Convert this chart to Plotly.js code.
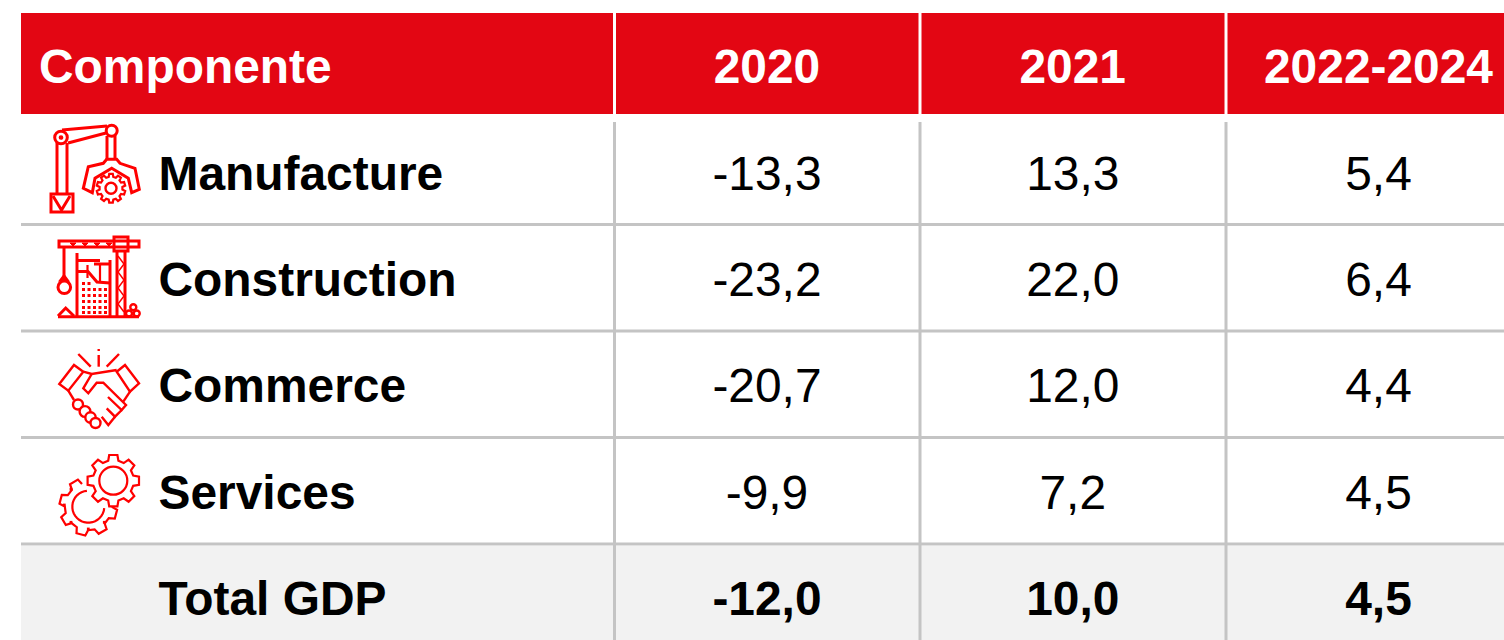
<!DOCTYPE html>
<html><head><meta charset="utf-8">
<script src="https://cdn.plot.ly/plotly-3.0.1.min.js"></script>
<style>html,body{margin:0;padding:0;background:#fff;overflow:hidden}</style>
</head><body><div id="chart" style="width:1504px;height:640px"></div>
<script>
const headerLabel = "Componente";
const periods = ["2020", "2021", "2022-2024"];
const components = ["Manufacture", "Construction", "Commerce", "Services", "Total GDP"];
const values2020 = [-13.3, -23.2, -20.7, -9.9, -12.0];
const values2021 = [13.3, 22.0, 12.0, 7.2, 10.0];
const values2022to2024 = [5.4, 6.4, 4.4, 4.5, 4.5];

const RED = "#e30613", ICON = "#ff0000", GRID = "#c4c4c4", BAND = "#f2f2f2";
const FONT = "Liberation Sans, Arial, sans-serif", SIZE = 47.9;
const W = 1504, H = 640;
const rows = components.map((_, i) => i + 1);
const fmt = v => v.toFixed(1).replace(".", ",");
const weights = rows.map((_, i) => i === rows.length - 1 ? 700 : 400);

/* x axis: column index; y axis: row index (0 = header) */
const colPx = 305.75, col1Px = 767, rowPx = 106.3, row0Px = 71.5;
const xRange = [1 - col1Px / colPx, 1 + (W - col1Px) / colPx];
const yRange = [(H - row0Px) / rowPx, -row0Px / rowPx];
const nameX = (158.5 - col1Px) / colPx + 1;
const headX = (39 - col1Px) / colPx + 1;

const traces = [];
[values2020, values2021, values2022to2024].forEach((vals, c) => {
  traces.push({
    type: "scatter", mode: "text", name: periods[c], cliponaxis: false,
    x: [c + 1, ...rows.map(() => c + 1)], y: [0, ...rows],
    text: [periods[c], ...vals.map(fmt)], textposition: "middle center",
    textfont: {family: FONT, size: SIZE, color: ["#ffffff", ...rows.map(() => "#000000")],
               weight: [700, ...weights]},
    hoverinfo: "skip", showlegend: false
  });
});
traces.push({
  type: "scatter", mode: "text", name: "Componente", cliponaxis: false,
  x: [headX, ...rows.map(() => nameX)], y: [0, ...rows],
  text: [headerLabel, ...components], textposition: "middle right",
  textfont: {family: FONT, size: SIZE, weight: 700, color: ["#ffffff", ...rows.map(() => "#000000")]},
  hoverinfo: "skip", showlegend: false
});
traces.push({type: "scatter", x: [], y: [], xaxis: "x2", yaxis: "y2", hoverinfo: "skip", showlegend: false});

/* pixel-space overlay axes x2 / y2 for table furniture and icons */
const shapes = [];
const S = o => shapes.push(Object.assign({xref: "x2", yref: "y2"}, o));
const rect = (x0, y0, x1, y1, fill, layer = "below") =>
  S({type: "rect", x0, y0, x1, y1, fillcolor: fill, line: {width: 0}, layer});
const gline = (x0, y0, x1, y1) =>
  S({type: "line", x0, y0, x1, y1, line: {color: GRID, width: 3}, layer: "below"});

rect(21, 13, W, 114, RED);
rect(21, 546, W, H, BAND);
[614.5, 920, 1226].forEach(x => {
  rect(x - 1.5, 13, x + 1.5, 114, "#ffffff");
  gline(x, 122, x, H);
});
[224.5, 331, 437.5, 544].forEach(y => gline(21, y, W, y));

const ip = (d, w = 3, fill = "rgba(0,0,0,0)") =>
  S({type: "path", path: d, line: {color: ICON, width: w}, fillcolor: fill, layer: "above"});
const poly = (pts, close) => "M" + pts.map(p => p.join(",")).join("L") + (close ? "Z" : "");
const circ = (cx, cy, r, w = 3, fill = "rgba(0,0,0,0)") =>
  S({type: "circle", x0: cx - r, y0: cy - r, x1: cx + r, y1: cy + r,
     line: {color: ICON, width: w}, fillcolor: fill, layer: "above"});
const box = (x, y, s) => rect(x, y, x + s, y + s, ICON, "above");
function gear(cx, cy, ro, ri, n, skipFrom, skipTo) {
  const pts = [], st = 360 / n;
  for (let i = 0; i < n; i++) {
    const a = i * st + (skipTo !== undefined ? skipTo : -90);
    [[-0.32, ri], [-0.2, ro], [0.2, ro], [0.32, ri]].forEach(([o, r]) => {
      const d = a + o * st, t = d * Math.PI / 180;
      const norm = ((d % 360) + 360) % 360;
      if (skipFrom !== undefined && norm > ((skipFrom % 360) + 360) % 360) return;
      pts.push([(cx + r * Math.cos(t)).toFixed(1), (cy + r * Math.sin(t)).toFixed(1)]);
    });
  }
  return poly(pts, skipFrom === undefined);
}
function arc(cx, cy, r, a0, a1) {
  const pts = [];
  for (let a = a0; a >= a1; a -= 10) {
    const t = a * Math.PI / 180;
    pts.push([(cx + r * Math.cos(t)).toFixed(1), (cy + r * Math.sin(t)).toFixed(1)]);
  }
  return poly(pts);
}

/* Manufacture icon */
ip(poly([[62, 130], [107, 126]]));
ip(poly([[68, 143], [106, 133]]));
ip(poly([[57, 143], [57, 194]])); ip(poly([[67, 143], [67, 194]]));
ip(poly([[51, 194], [73, 194], [73, 212], [51, 212]], true));
ip(poly([[53, 196], [61.5, 210], [70, 196]]));
circ(61, 137.5, 6.3); circ(61, 137.5, 1.6, 1.5, ICON);
circ(111.7, 130.7, 5.5);
ip(poly([[107, 136], [107, 159]])); ip(poly([[115, 136], [115, 159]]));
ip(poly([[83.3, 188.3], [88.3, 166.7], [103.3, 163.3], [106.7, 159.3], [116.7, 159.3], [120, 163.3],
         [135, 168.3], [139.3, 189.3], [131.7, 192.7], [128.3, 178.3], [111.7, 168.3], [95, 178.3], [92.3, 192.7]], true));
ip(gear(111, 188.3, 14.5, 11.5, 10), 2.2);
circ(111, 188.3, 5.5, 2.4);

/* Construction icon */
ip(poly([[59, 241], [139, 241], [139, 247], [59, 247]], true));
for (let x = 70; x < 110; x += 12) ip(poly([[x, 243], [x + 6, 243], [x + 3, 246]], true), 1, ICON);
ip(poly([[114, 237], [128, 237], [128, 251], [114, 251]], true));
ip(poly([[117, 252], [117, 316]])); ip(poly([[125, 252], [125, 316]]));
ip(poly([[118, 256], [124, 264], [118, 272], [124, 280], [118, 288], [124, 296], [118, 304], [124, 312]]), 1.5);
ip(poly([[64, 247], [64, 276]]));
ip(poly([[64, 276], [67, 280], [61, 280]], true));
circ(64.3, 287.3, 6.3);
ip(poly([[58, 316.7], [139, 316.7]]));
ip(poly([[58, 316], [65.7, 308], [74, 316]]));
ip(poly([[77, 253], [77, 316]])); ip(poly([[110, 260], [110, 316]]));
ip(poly([[77, 260.5], [100, 260.5]])); ip(poly([[94, 264], [110, 264]]));
ip(poly([[77, 271.5], [88, 271.5], [97, 282], [110, 283]]));
ip(poly([[87.5, 265], [87.5, 278]]), 2.2); ip(poly([[100, 263], [100, 282]]), 2.2);
[282, 288, 294, 300, 306, 311].forEach((y, r) => {
  [82, 87.5, 93, 98.5, 104].forEach((x, c) => { if (r > 0 || c < 2) box(x, y, 3); });
});
circ(133.3, 307.3, 3, 2.4); circ(129, 313.5, 3, 2.4); circ(136.7, 313.5, 3, 2.4);

/* Commerce icon */
const hw = 2.4;
ip(poly([[78.3, 354], [90.7, 366.7]]), hw); ip(poly([[98.7, 355], [98.7, 366.7]]), hw);
ip(poly([[98.7, 349], [98.7, 351]]), hw); ip(poly([[119, 354], [106.7, 366.7]]), hw);
ip(poly([[59.3, 384], [74, 365], [83.3, 371.7], [68.3, 390.7]], true), hw);
ip(poly([[116.7, 371.7], [125, 365], [139, 383.3], [130, 391.7]], true), hw);
ip(poly([[83.3, 371.7], [91.7, 374], [116.7, 370]]), hw);
ip(poly([[91.7, 374], [83.3, 388.3], [88.3, 393.3], [96.7, 382.7], [103.3, 382.7], [126, 405], [121.7, 410], [108, 397]]), hw);
ip(poly([[121.7, 410], [115, 416.7], [106.7, 408.3]]), hw);
ip(poly([[115, 416.7], [108.3, 425], [101.7, 416.7]]), hw);
ip(poly([[130, 391.7], [123.3, 401.7]]), hw);
ip(poly([[68.3, 390.7], [74, 400]]), hw);
[[78, 404.5, 5], [85, 411.5, 5.4], [90.5, 417.5, 5.2], [95.5, 423, 5]].forEach(([x, y, r]) => circ(x, y, r, hw, "#ffffff"));

/* Services icon */
ip(gear(113.3, 480.7, 26, 20.5, 8), 2.2);
circ(113.3, 480.7, 14, 2.2);
ip(gear(88.3, 506.7, 29, 23.5, 8, 257, 15), 2.2);
ip(arc(88.3, 506.7, 16, 265, 0), 2.2);
[[88.3, 529], [64.3, 505], [71, 522.3], [104.3, 522.3], [71, 489.3]].forEach(([x, y]) => box(x - 1.4, y - 1.4, 2.8));

const layout = {
  width: W, height: H, margin: {l: 0, r: 0, t: 0, b: 0},
  paper_bgcolor: "#ffffff", plot_bgcolor: "rgba(0,0,0,0)", showlegend: false,
  xaxis: {range: xRange, visible: false, fixedrange: true},
  yaxis: {range: yRange, visible: false, fixedrange: true},
  xaxis2: {range: [0, W], visible: false, overlaying: "x", fixedrange: true},
  yaxis2: {range: [H, 0], visible: false, overlaying: "y", fixedrange: true},
  shapes
};
Plotly.newPlot("chart", traces, layout, {staticPlot: true, displayModeBar: false});
</script></body></html>
